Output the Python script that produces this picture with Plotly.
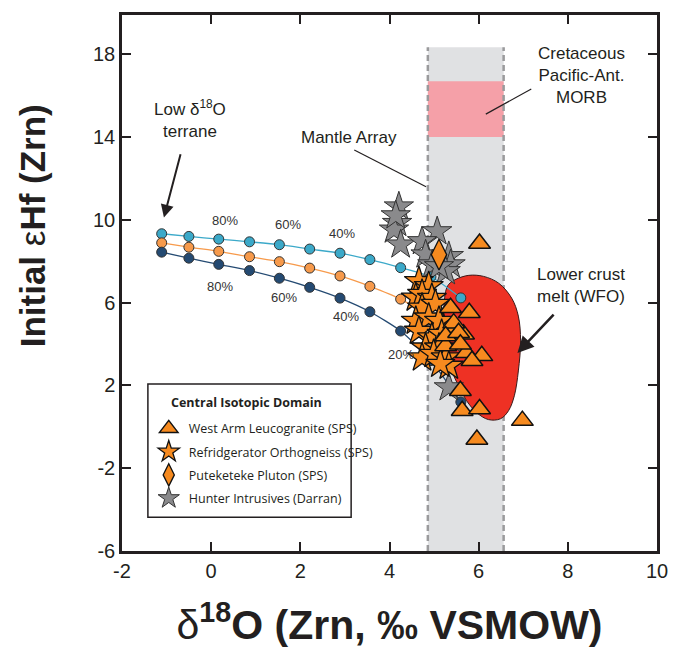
import plotly.graph_objects as go

# ---------------- data ----------------
mix_frac = [100, 90, 80, 70, 60, 50, 40, 30, 20, 10, 0]
mix_x = [-1.11, -0.50, 0.17, 0.86, 1.53, 2.21, 2.89, 3.56, 4.25, 4.93, 5.60]
mix_top_y = [9.33, 9.20, 9.07, 8.94, 8.80, 8.59, 8.39, 8.08, 7.69, 7.25, 6.23]
mix_mid_y = [8.89, 8.68, 8.48, 8.22, 7.98, 7.67, 7.29, 6.79, 6.17, 5.25, 3.90]
mix_bot_y = [8.44, 8.15, 7.85, 7.55, 7.18, 6.74, 6.22, 5.56, 4.63, 3.20, 1.20]

top_labels_x = [0.30, 1.72, 2.93]
top_labels_y = [9.95, 9.76, 9.36]
top_labels = ["80%", "60%", "40%"]
bot_labels_x = [0.19, 1.64, 3.02, 4.25]
bot_labels_y = [6.80, 6.23, 5.35, 3.50]
bot_labels = ["80%", "60%", "40%", "20%"]

west_arm_x = [6.02, 5.37, 5.79, 5.48, 5.66, 5.26, 5.72, 6.07, 5.85, 5.59, 5.63, 6.02, 6.98, 5.96,
              5.44, 5.26, 5.55, 5.59]
west_arm_y = [8.86, 5.75, 5.51, 4.79, 4.47, 3.91, 3.58, 3.43, 3.19, 1.74, 0.78, 0.86, 0.30, -0.61,
              5.01, 4.39, 4.55, 3.99]

refrig_x = [4.66, 4.88, 4.59, 4.73, 4.95, 4.73, 5.03, 4.59, 4.88, 5.11, 4.66, 4.95, 5.17, 4.81,
            5.11, 4.73, 4.99, 5.26, 5.33, 5.14]
refrig_y = [7.03, 6.79, 6.23, 6.41, 6.22, 5.75, 5.93, 5.11, 5.27, 5.11, 4.63, 4.31, 4.48, 3.82,
            3.82, 3.34, 3.51, 3.34, 2.94, 3.03]

puteketeke_x = [5.11]
puteketeke_y = [8.32]

hunter_x = [4.21, 4.17, 4.10, 4.25, 4.14, 5.07, 4.73, 4.81, 5.33, 5.37, 4.96, 5.26, 5.11, 5.33]
hunter_y = [10.64, 9.84, 9.52, 8.80, 10.21, 9.44, 8.96, 8.32, 8.24, 7.84, 7.84, 7.51, 7.75, 1.90]

wfo_x = [5.26, 5.22, 5.31, 5.40, 5.55, 5.73, 5.96, 6.22, 6.49, 6.67, 6.80, 6.89, 6.94, 6.89,
         6.74, 6.45, 6.11, 5.78, 5.49, 5.33, 5.26]
wfo_y = [6.55, 5.11, 3.67, 2.70, 1.98, 1.26, 0.68, 0.35, 0.39, 0.78, 1.50, 2.70, 4.15, 5.35,
         6.22, 6.94, 7.27, 7.32, 7.13, 6.89, 6.55]

mantle_x = [4.86, 6.56]
mantle_y = [-6, 18.34]
morb_y = [14.0, 16.7]

x_ticks = [-2, 0, 2, 4, 6, 8, 10]
x_tick_text = ["-2", "0", "2", "4", "6", "8", "10"]
y_ticks = [-6, -2, 2, 6, 10, 14, 18]
y_tick_text = ["-6", "-2", "2", "6", "10", "14", "18"]

# ---------------- styles ----------------
TXT = "#231f20"
ORANGE = "#f68a1f"
GRAY = "#8a8a8c"
C_TOP = "#3ba9c9"
C_MID = "#f79a4b"
C_BOT = "#244a72"
AX_FONT = "Liberation Sans, Arial, sans-serif"
LEG_FONT = "Open Sans, Lato, sans-serif"

fig = go.Figure()

# mantle array band & MORB box
fig.add_shape(type="rect", x0=mantle_x[0], x1=mantle_x[1], y0=mantle_y[0], y1=mantle_y[1],
              fillcolor="#e0e1e3", line=dict(width=0), layer="below")
fig.add_shape(type="rect", x0=mantle_x[0], x1=mantle_x[1], y0=morb_y[0], y1=morb_y[1],
              fillcolor="#f5a0a8", line=dict(width=0), layer="below")
for xv in mantle_x:
    fig.add_shape(type="line", x0=xv, x1=xv, y0=mantle_y[0], y1=mantle_y[1],
                  line=dict(color="#9a9a9c", width=2.5, dash="6px,4px"), layer="below")

# lower crust melt field
fig.add_trace(go.Scatter(x=wfo_x, y=wfo_y, mode="lines", fill="toself", fillcolor="#ee3124",
                         line=dict(color="#3a1a1a", width=1, shape="spline", smoothing=1.0),
                         showlegend=False, hoverinfo="skip"))

# mixing curves
for ys, col in [(mix_top_y, C_TOP), (mix_mid_y, C_MID), (mix_bot_y, C_BOT)]:
    fig.add_trace(go.Scatter(x=mix_x, y=ys, mode="lines+markers",
                             line=dict(color=col, width=1.3, shape="spline", smoothing=0.6),
                             marker=dict(color=col, size=10, line=dict(color="#333333", width=1)),
                             showlegend=False, text=[f"{f}%" for f in mix_frac]))

# data points (legend order set with legendrank)
fig.add_trace(go.Scatter(x=hunter_x, y=hunter_y, mode="markers", name="Hunter Intrusives (Darran)",
                         marker=dict(symbol="star", size=22, color=GRAY, line=dict(color="#333333", width=1)),
                         legendrank=4, legendgroup="d"))
fig.add_trace(go.Scatter(x=refrig_x, y=refrig_y, mode="markers", name="Refridgerator Orthogneiss (SPS)",
                         marker=dict(symbol="star", size=22, color=ORANGE, line=dict(color="#111111", width=1.3)),
                         legendrank=2, legendgroup="b"))
fig.add_trace(go.Scatter(x=puteketeke_x, y=puteketeke_y, mode="markers", name="Puteketeke Pluton (SPS)",
                         marker=dict(symbol="diamond-tall", size=22, color=ORANGE, line=dict(color="#111111", width=1.3)),
                         legendrank=3, legendgroup="c"))
fig.add_trace(go.Scatter(x=west_arm_x, y=west_arm_y, mode="markers", name="West Arm Leucogranite (SPS)",
                         marker=dict(symbol="triangle-up", size=19, color=ORANGE, line=dict(color="#111111", width=1.5)),
                         legendrank=1, legendgroup="a"))

# legend box and title
fig.add_shape(type="rect", xref="paper", yref="paper", x0=0.0484, x1=0.4283, y0=0.0631, y1=0.3117,
              fillcolor="white", line=dict(color=TXT, width=1.5), layer="above")
fig.add_annotation(xref="paper", yref="paper", x=0.233, y=0.277, xanchor="center", yanchor="middle",
                   text="<b>Central Isotopic Domain</b>",
                   showarrow=False, font=dict(family=LEG_FONT, size=12.5, color=TXT))

# percentage labels
for xs, ys, ts in [(top_labels_x, top_labels_y, top_labels), (bot_labels_x, bot_labels_y, bot_labels)]:
    for xv, yv, t in zip(xs, ys, ts):
        fig.add_annotation(x=xv, y=yv, text=t, showarrow=False,
                           font=dict(family=AX_FONT, size=13, color="#333333"))

ann_font = dict(family=AX_FONT, size=17, color=TXT)
fig.add_annotation(x=-1.06, y=10.11, ax=-0.48, ay=14.87, axref="x", ayref="y",
                   text="Low δ<sup>18</sup>O<br>terrane", font=ann_font,
                   showarrow=True, arrowhead=2, arrowsize=1.3, arrowwidth=2, arrowcolor=TXT,
                   startstandoff=12)
fig.add_annotation(x=3.09, y=13.96, text="Mantle Array", showarrow=False, font=ann_font)
fig.add_shape(type="line", x0=3.21, y0=13.38, x1=4.82, y1=11.6, line=dict(color=TXT, width=1.2))
fig.add_annotation(x=8.30, y=16.99, text="Cretaceous<br>Pacific-Ant.<br>MORB", showarrow=False, font=ann_font)
fig.add_shape(type="line", x0=7.18, y0=16.32, x1=6.16, y1=15.11, line=dict(color=TXT, width=1.2))
fig.add_annotation(x=6.87, y=3.57, ax=8.30, ay=6.84, axref="x", ayref="y",
                   text="Lower crust<br>melt (WFO)", font=ann_font,
                   showarrow=True, arrowhead=2, arrowsize=1.3, arrowwidth=2.5, arrowcolor=TXT,
                   startstandoff=10)

# y-axis title (placed above centre, as in the reference)
fig.add_annotation(xref="paper", yref="paper", x=-0.168, y=0.606, xanchor="center", yanchor="middle",
                   textangle=-90,
                   text="<b>Initial <span style='font-weight:normal'>ε</span>Hf (Zrn)</b>",
                   showarrow=False, font=dict(family=AX_FONT, size=35, color=TXT))

axis_common = dict(showline=True, linecolor="#231f20", linewidth=2.5, mirror="ticks",
                   ticks="inside", ticklen=9, tickwidth=2, tickcolor="#231f20",
                   showgrid=False, zeroline=False,
                   tickfont=dict(family=AX_FONT, size=20, color=TXT))

fig.update_layout(
    width=680, height=653,
    margin=dict(l=122, r=21, t=12, b=102),
    paper_bgcolor="white", plot_bgcolor="white",
    xaxis=dict(range=[-2, 10], tickvals=x_ticks, ticktext=x_tick_text,
               title=dict(text="<b><span style='font-weight:normal'>δ</span><sup>18</sup>O (Zrn, ‰ VSMOW)</b>",
                          font=dict(family=AX_FONT, size=41, color=TXT), standoff=30),
               **axis_common),
    yaxis=dict(range=[-6, 19.9], tickvals=y_ticks, ticktext=y_tick_text, **axis_common),
    legend=dict(x=0.05, y=0.256, xanchor="left", yanchor="top",
                bgcolor="rgba(0,0,0,0)", borderwidth=0,
                font=dict(family=LEG_FONT, size=12.5, color=TXT),
                traceorder="grouped", tracegroupgap=4, itemsizing="trace"),
)

fig.write_html("out.html")
